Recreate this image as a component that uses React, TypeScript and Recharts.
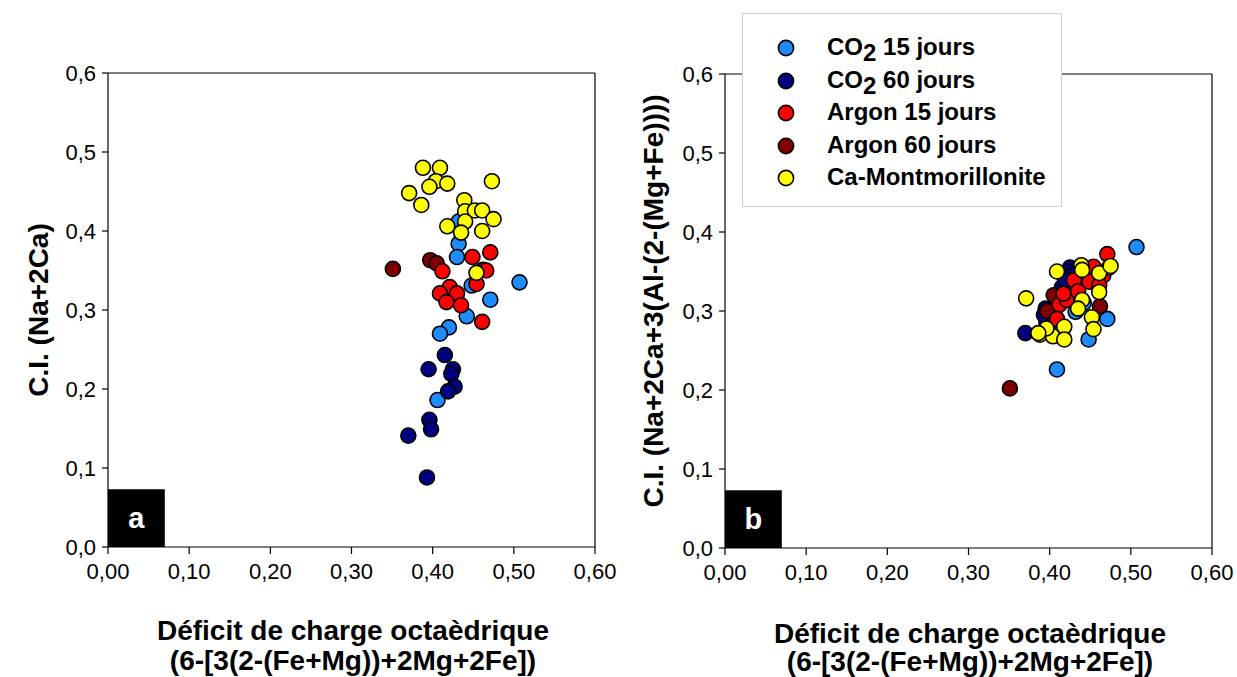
import React from 'react';
import { ScatterChart, Scatter, XAxis, YAxis, ReferenceLine, ReferenceArea, Legend } from 'recharts';

// ---- Data ----
// x: Déficit de charge octaèdrique (same for both panels)
// yA: C.I. (Na+2Ca)   yB: C.I. (Na+2Ca+3(Al-(2-(Mg+Fe))))
const co2_15_x = [0.432, 0.432, 0.430, 0.448, 0.507, 0.471, 0.442, 0.420, 0.409, 0.406];
const co2_15_yA = [0.412, 0.384, 0.367, 0.331, 0.335, 0.313, 0.292, 0.278, 0.270, 0.186];
const co2_15_yB = [0.299, 0.345, 0.330, 0.264, 0.381, 0.290, 0.310, 0.333, 0.226, 0.300];

const co2_60_x = [0.415, 0.395, 0.425, 0.423, 0.427, 0.419, 0.396, 0.398, 0.370, 0.393];
const co2_60_yA = [0.243, 0.225, 0.225, 0.219, 0.203, 0.197, 0.161, 0.149, 0.141, 0.088];
const co2_60_yB = [0.330, 0.303, 0.355, 0.350, 0.345, 0.340, 0.285, 0.278, 0.272, 0.295];

const ar_15_x = [0.471, 0.449, 0.412, 0.466, 0.454, 0.421, 0.409, 0.430, 0.417, 0.435, 0.461];
const ar_15_yA = [0.373, 0.367, 0.349, 0.350, 0.333, 0.329, 0.321, 0.321, 0.310, 0.306, 0.285];
const ar_15_yB = [0.372, 0.337, 0.308, 0.345, 0.356, 0.314, 0.290, 0.339, 0.322, 0.325, 0.333];

const ar_60_x = [0.351, 0.397, 0.405, 0.462];
const ar_60_yA = [0.352, 0.363, 0.359, 0.351];
const ar_60_yB = [0.202, 0.300, 0.320, 0.306];

const camont_x = [0.388, 0.409, 0.404, 0.396, 0.418, 0.473, 0.371, 0.386, 0.439, 0.440, 0.452, 0.461, 0.475, 0.440, 0.418, 0.435, 0.461, 0.454];
const camont_yA = [0.480, 0.480, 0.463, 0.456, 0.460, 0.463, 0.448, 0.433, 0.439, 0.425, 0.426, 0.426, 0.415, 0.412, 0.406, 0.398, 0.400, 0.347];
const camont_yB = [0.270, 0.350, 0.268, 0.278, 0.280, 0.355, 0.316, 0.272, 0.358, 0.352, 0.292, 0.348, 0.357, 0.314, 0.264, 0.303, 0.324, 0.277];

const xTicks = [0, 0.1, 0.2, 0.3, 0.4, 0.5, 0.6];
const yTicks = [0, 0.1, 0.2, 0.3, 0.4, 0.5, 0.6];

const seriesNames = ['CO2 15 jours', 'CO2 60 jours', 'Argon 15 jours', 'Argon 60 jours', 'Ca-Montmorillonite'];
const seriesColors = ['#1E8CFF', '#000080', '#FF0000', '#800000', '#FFFF00'];

const FONT = 'Arial, "Liberation Sans", Helvetica, sans-serif';

const zip = (xs: number[], ys: number[]) => xs.map((x, i) => ({ x, y: ys[i] }));

const seriesA = [
  zip(co2_15_x, co2_15_yA),
  zip(co2_60_x, co2_60_yA),
  zip(ar_15_x, ar_15_yA),
  zip(ar_60_x, ar_60_yA),
  zip(camont_x, camont_yA),
];
const seriesB = [
  zip(co2_15_x, co2_15_yB),
  zip(co2_60_x, co2_60_yB),
  zip(ar_15_x, ar_15_yB),
  zip(ar_60_x, ar_60_yB),
  zip(camont_x, camont_yB),
];
// draw order: CO2 15, CO2 60, Argon 60, Argon 15, Ca-Mont
const drawOrder = [0, 1, 3, 2, 4];

const fmtX = (v: number) => v.toFixed(2).replace('.', ',');
const fmtY = (v: number) => v.toFixed(1).replace('.', ',');

const dot = (color: string) => (p: any) => (
  <circle cx={p.cx} cy={p.cy} r={7.5} fill={color} stroke="#000" strokeWidth={1.6} />
);

const renderLabel = (name: string) => {
  if (name.startsWith('CO2')) {
    return (
      <span>
        CO<span style={{ position: 'relative', top: 6 }}>2</span>
        {name.slice(3)}
      </span>
    );
  }
  return <span>{name}</span>;
};

const LegendBox = () => (
  <div
    style={{
      width: 320,
      height: 194,
      boxSizing: 'border-box',
      border: '1.5px solid #cfcfcf',
      background: '#fff',
      position: 'relative',
      fontFamily: FONT,
      fontWeight: 'bold',
      fontSize: 24,
      color: '#000',
    }}
  >
    {seriesNames.map((n, i) => (
      <div key={n} style={{ position: 'absolute', left: 0, top: 34 + i * 32.6 - 16, height: 32, width: 318 }}>
        <svg width={20} height={20} style={{ position: 'absolute', left: 33, top: 6 }}>
          <circle cx={10} cy={10} r={7.6} fill={seriesColors[i]} stroke="#000" strokeWidth={1.6} />
        </svg>
        <div style={{ position: 'absolute', left: 84, top: 0, lineHeight: '30px', whiteSpace: 'nowrap' }}>
          {renderLabel(n)}
        </div>
      </div>
    ))}
  </div>
);

const tickStyle = { fontFamily: FONT, fontSize: 22, fill: '#000' };

function Panel({ series, letter, width, yAxisWidth, top, bottom, right, showLegend }: any) {
  return (
    <ScatterChart width={width} height={677} margin={{ top, right, bottom, left: 0 }}>
      <XAxis
        type="number"
        dataKey="x"
        domain={[0, 0.6]}
        ticks={xTicks}
        tickFormatter={fmtX}
        allowDataOverflow
        height={40}
        tickSize={7}
        tickMargin={9}
        tick={tickStyle}
        axisLine={{ stroke: '#000', strokeWidth: 1.2 }}
        tickLine={{ stroke: '#000', strokeWidth: 1.2 }}
      />
      <YAxis
        type="number"
        dataKey="y"
        domain={[0, 0.6]}
        ticks={yTicks}
        tickFormatter={fmtY}
        allowDataOverflow
        width={yAxisWidth}
        tickSize={6}
        tickMargin={6}
        tick={tickStyle}
        axisLine={{ stroke: '#000', strokeWidth: 1.2 }}
        tickLine={{ stroke: '#000', strokeWidth: 1.2 }}
      />
      <ReferenceLine y={0.6} stroke="#000" strokeWidth={1.2} />
      <ReferenceLine x={0.6} stroke="#000" strokeWidth={1.2} />
      <ReferenceArea
        x1={0}
        x2={0.07}
        y1={0}
        y2={0.073}
        fill="#000"
        fillOpacity={1}
        stroke="none"
        label={{ value: letter, position: 'center', fill: '#fff', fontSize: 29, fontWeight: 'bold', fontFamily: FONT }}
      />
      {drawOrder.map((i) => (
        <Scatter
          key={seriesNames[i]}
          name={seriesNames[i]}
          data={series[i]}
          fill={seriesColors[i]}
          shape={dot(seriesColors[i])}
          isAnimationActive={false}
        />
      ))}
      {showLegend && (
        <Legend
          layout="vertical"
          align="center"
          verticalAlign="middle"
          wrapperStyle={{ left: 122, top: 13, width: 320, height: 194, right: 'auto', bottom: 'auto' }}
          content={() => <LegendBox />}
        />
      )}
    </ScatterChart>
  );
}

const titleStyle: any = { fontFamily: FONT, fontWeight: 'bold', fontSize: 28, fill: '#000' };

export default function App() {
  return (
    <div style={{ position: 'absolute', left: 0, top: 0, width: 1237, height: 677, background: '#fff', overflow: 'hidden' }}>
      <div style={{ position: 'absolute', left: 0, top: 0 }}>
        <Panel series={seriesA} letter="a" width={620} yAxisWidth={108} top={73} bottom={90} right={25} showLegend={false} />
      </div>
      <div style={{ position: 'absolute', left: 620, top: 0 }}>
        <Panel series={seriesB} letter="b" width={617} yAxisWidth={105} top={74} bottom={89} right={25} showLegend={true} />
      </div>
      <svg width={1237} height={677} style={{ position: 'absolute', left: 0, top: 0, pointerEvents: 'none' }}>
        <text x={38} y={310} textAnchor="middle" dominantBaseline="central" transform="rotate(-90 38 310)" style={titleStyle}>
          C.I. (Na+2Ca)
        </text>
        <text x={653} y={301} textAnchor="middle" dominantBaseline="central" transform="rotate(-90 653 301)" style={titleStyle}>
          C.I. (Na+2Ca+3(Al-(2-(Mg+Fe))))
        </text>
        <text x={353} y={640} textAnchor="middle" style={titleStyle}>Déficit de charge octaèdrique</text>
        <text x={353} y={670} textAnchor="middle" style={titleStyle}>(6-[3(2-(Fe+Mg))+2Mg+2Fe])</text>
        <text x={970} y={643} textAnchor="middle" style={titleStyle}>Déficit de charge octaèdrique</text>
        <text x={970} y={671} textAnchor="middle" style={titleStyle}>(6-[3(2-(Fe+Mg))+2Mg+2Fe])</text>
      </svg>
    </div>
  );
}
